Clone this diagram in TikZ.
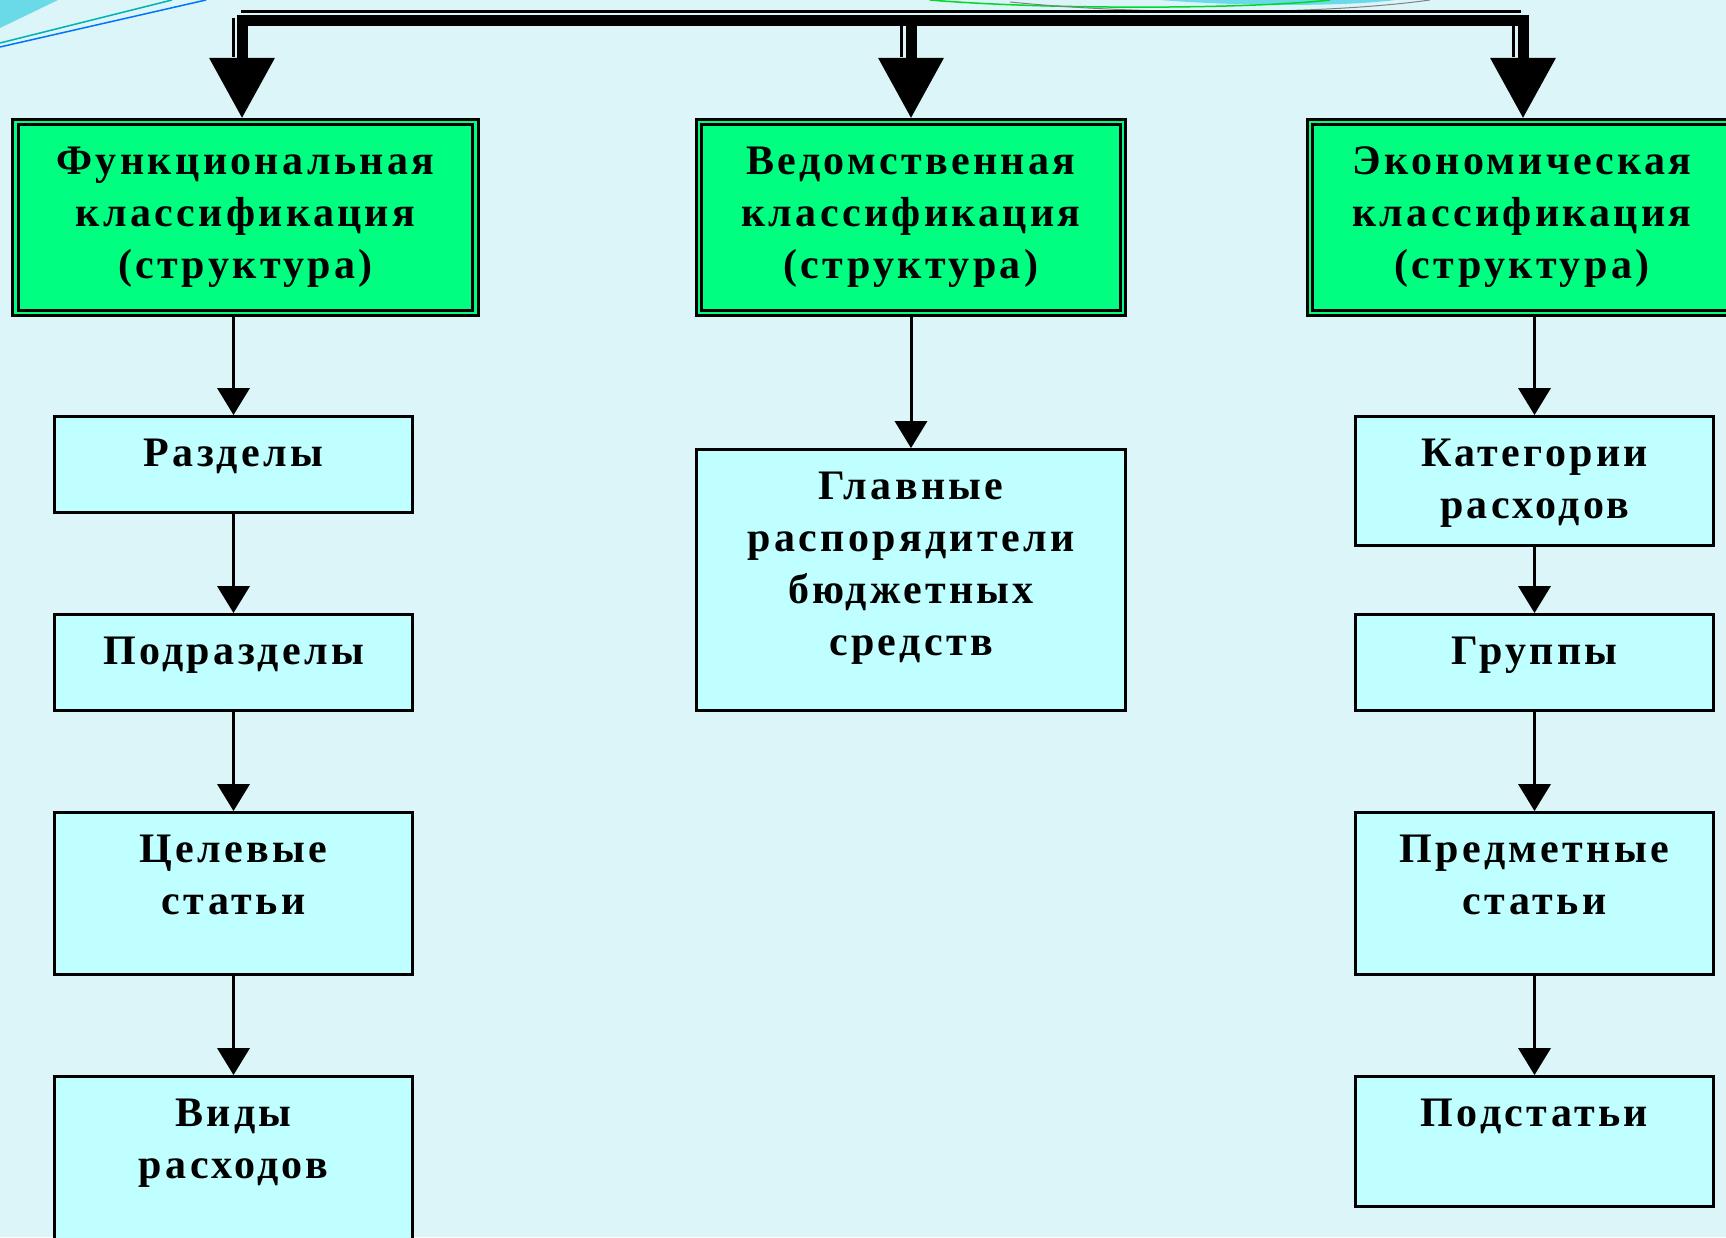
\documentclass[tikz,border=0pt]{standalone}
\usepackage{fontspec}
\setmainfont{Liberation Serif}[LetterSpace=8]
\usetikzlibrary{arrows.meta}

\definecolor{slidebg}{HTML}{DCF5F9}
\definecolor{classgreen}{HTML}{00FF80}
\definecolor{itemcyan}{HTML}{C0FFFF}
\definecolor{swoosh}{HTML}{6AD9E8}

\begin{document}
\begin{tikzpicture}[x=1pt, y=-1pt,
  every node/.append style={font=\fontsize{42}{52}\selectfont\bfseries, align=center},
  classbox/.style={draw, line width=3pt, double=classgreen, double distance=2.5pt, fill=classgreen, outer sep=4.25pt, inner sep=0pt},
  itembox/.style={draw, line width=3pt, fill=itemcyan, outer sep=1.5pt, inner sep=0pt},
  itemtext/.style={anchor=north, inner sep=0pt},
  bus/.style={line width=11pt},
  busline/.style={line width=3pt},
  drop/.style={bus, -{Triangle[width=66pt, length=60pt, line width=0pt]}},
  link/.style={line width=3pt, -{Triangle[width=33pt, length=27pt, line width=0pt]}}]
\useasboundingbox (0,0) rectangle (1726,1237);
\clip (0,0) rectangle (1726,1237);
\fill[slidebg] (0,0) rectangle (1726,1237);

% slide decoration
\fill[swoosh] (0,0) -- (58,0) -- (0,28) -- cycle;
\draw[teal!60!cyan, line width=1.5pt] (0,43) -- (172,0);
\draw[blue!55!cyan, line width=1.5pt] (0,47) -- (206,0);
\fill[swoosh] (1160,0) .. controls (1250,7) and (1350,6) .. (1395,0) -- cycle;
\draw[green!70!teal, line width=1.5pt] (930,0) .. controls (1050,10) and (1250,9) .. (1330,0);
\draw[gray, line width=1pt] (1010,2) .. controls (1150,16) and (1330,14) .. (1430,0);

% classifications
\node[classbox, minimum width=460pt, minimum height=191pt] (func) at (245.5,217.5) {Функциональная\\классификация\\(структура)};
\node[classbox, minimum width=424pt, minimum height=191pt] (ved)  at (911,217.5)   {Ведомственная\\классификация\\(структура)};
\node[classbox, minimum width=424pt, minimum height=191pt] (econ) at (1522,217.5)  {Экономическая\\классификация\\(структура)};

% functional items
\node[itembox, minimum width=358pt, minimum height=96pt]  (razd) at (233.5,464.5) {};
\node[itembox, minimum width=358pt, minimum height=96pt]  (podr) at (233.5,662.5) {};
\node[itembox, minimum width=358pt, minimum height=162pt] (cel)  at (233.5,893.5) {};
\node[itembox, minimum width=358pt, minimum height=167pt] (vidy) at (233.5,1160)  {};
\node[itemtext] (razdT) at ([yshift=-24pt]razd.north) {Разделы};
\node[itemtext] (podrT) at ([yshift=-24pt]podr.north) {Подразделы};
\node[itemtext] (celT)  at ([yshift=-24pt]cel.north)  {Целевые\\статьи};
\node[itemtext] (vidyT) at ([yshift=-24pt]vidy.north) {Виды\\расходов};

% departmental item
\node[itembox, minimum width=429pt, minimum height=261pt] (glav) at (911,580) {};
\node[itemtext] (glavT) at ([yshift=-24pt]glav.north) {Главные\\распорядители\\бюджетных\\средств};

% economic items
\node[itembox, minimum width=358pt, minimum height=129pt] (kat)   at (1534.5,481)    {};
\node[itembox, minimum width=358pt, minimum height=96pt]  (grup)  at (1534.5,662.5)  {};
\node[itembox, minimum width=358pt, minimum height=162pt] (pred)  at (1534.5,893.5)  {};
\node[itembox, minimum width=358pt, minimum height=130pt] (podst) at (1534.5,1141.5) {};
\node[itemtext] (katT)   at ([yshift=-24pt]kat.north)   {Категории\\расходов};
\node[itemtext] (grupT)  at ([yshift=-24pt]grup.north)  {Группы};
\node[itemtext] (predT)  at ([yshift=-24pt]pred.north)  {Предметные\\статьи};
\node[itemtext] (podstT) at ([yshift=-24pt]podst.north) {Подстатьи};

% top bus
\coordinate (busL) at (242,20.5);
\coordinate (busM) at (911,20.5);
\coordinate (busR) at (1523,20.5);
\draw[busline] (241,11.5) -- (1521,11.5);
\draw[busline] (233.5,18) -- (233.5,57);
\draw[busline] (901.5,26) -- (901.5,57);
\draw[busline] (1513.5,26) -- (1513.5,57);
\draw[bus, line cap=rect] (busL) -- (busR);
\draw[drop] (busL) -- (busL |- func.north);
\draw[drop] (busM) -- (busM |- ved.north);
\draw[drop] (busR) -- (busR |- econ.north);

% links
\draw[link] (func.south -| razd) -- (razd);
\draw[link] (razd) -- (podr);
\draw[link] (podr) -- (cel);
\draw[link] (cel) -- (vidy);
\draw[link] (ved) -- (glav);
\draw[link] (econ.south -| kat) -- (kat);
\draw[link] (kat) -- (grup);
\draw[link] (grup) -- (pred);
\draw[link] (pred) -- (podst);

\end{tikzpicture}
\end{document}
